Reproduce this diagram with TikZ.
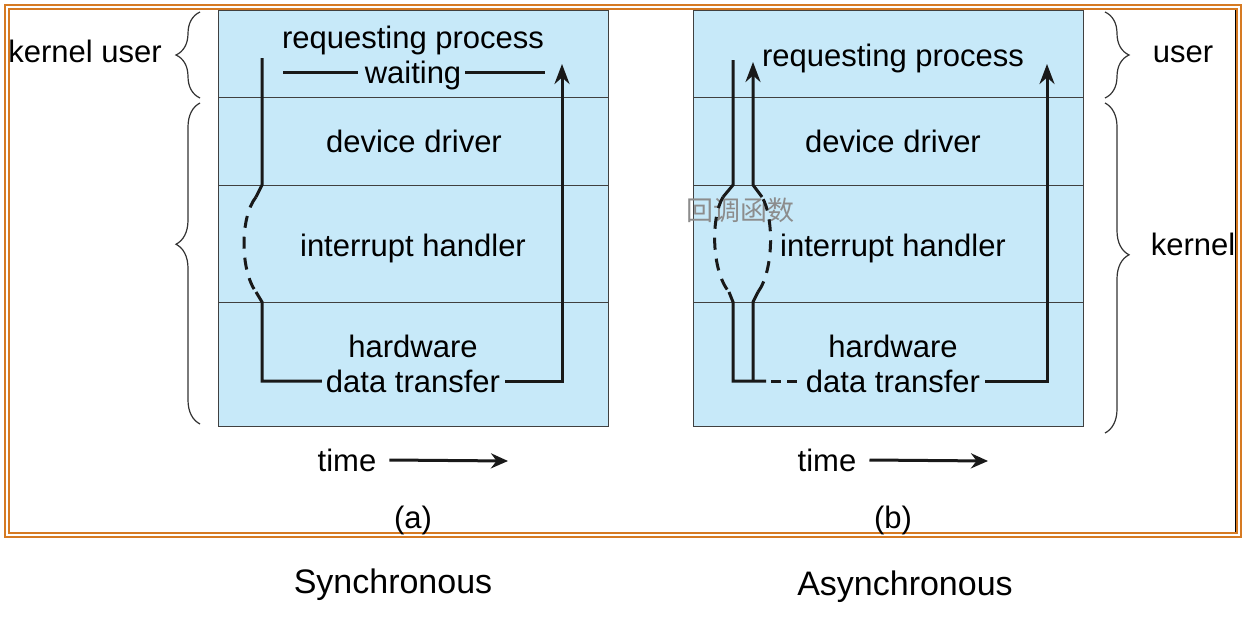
\documentclass[tikz,border=0pt]{standalone}
\usepackage{fontspec}
\setmainfont{Liberation Sans}
\newfontfamily\cjk{Noto Sans CJK SC}
\usetikzlibrary{arrows.meta, decorations.pathreplacing}
\definecolor{layerblue}{RGB}{199,233,249}
\definecolor{frameorange}{RGB}{214,122,34}
\definecolor{cbgray}{RGB}{140,140,140}
\tikzset{x=1pt, y=-1pt, % one unit is one pixel of the picture
>={Stealth[length=20pt, width=15pt]}, % bold arrow heads
layer/.style={draw=black!75, line width=0.9pt, fill=layerblue, minimum width=390pt, inner sep=0pt}, % one band of the stack
txt/.style={font=\fontsize{31}{35}\selectfont, inner sep=0pt, text height=22pt, text depth=0pt}, % labels
big/.style={font=\fontsize{34}{38}\selectfont, inner sep=0pt, text height=24pt, text depth=0pt}, % captions below the frame
sig/.style={line width=3pt, black!90}, % the control path
dsh/.style={sig, dash pattern=on 12pt off 9pt}, % dashed part of the path
brc/.style={decorate, decoration={brace, amplitude=24pt}, line width=1.2pt, black!80}, % side braces
}

\begin{document}
\begin{tikzpicture}
    \useasboundingbox (0,0) rectangle (1249,621);
    % frame
    \draw[frameorange, line width=2pt] (5,5) rectangle (1241,537);
    \draw[frameorange, line width=2pt] (9,9) rectangle (1237,533);
    \draw[black, line width=0.8pt] (1235,10) -- (1235,532);

    % (a) synchronous
    \node[layer, minimum height=87pt] (userA) at (413,53.5) {};
    \node[layer, minimum height=88pt] (drvA) at (413,141) {};
    \node[layer, minimum height=117pt] (intA) at (413,243.5) {};
    \node[layer, minimum height=124pt] (hwA) at (413,364) {};
    \node[txt] (reqA) at (413,37) {requesting process};
    \node[txt] (waitA) at (413,72) {waiting};
    \node[txt] (ddA) at (414,141) {device driver};
    \node[txt] (ihA) at (413,245) {interrupt handler};
    \node[txt] (hwtA) at (413,346) {hardware};
    \node[txt] (xferA) at (413,381) {data transfer};

    % (b) asynchronous
    \node[layer, minimum height=87pt] (userB) at (888,53.5) {};
    \node[layer, minimum height=88pt] (drvB) at (888,141) {};
    \node[layer, minimum height=117pt] (intB) at (888,243.5) {};
    \node[layer, minimum height=124pt] (hwB) at (888,364) {};
    \node[txt] (reqB) at (893,55) {requesting process};
    \node[txt] (ddB) at (893,141) {device driver};
    \node[txt] (ihB) at (893,245) {interrupt handler};
    \node[txt] (hwtB) at (893,346) {hardware};
    \node[txt] (xferB) at (893,381) {data transfer};
    \node[font=\cjk\fontsize{27}{30}\selectfont, text=cbgray, inner sep=0pt] (cb) at (740,210) {回调函数};

    % path in (a)
    \coordinate (a0) at (262,58);
    \coordinate (a1) at (562,64);
    \coordinate (w0) at (283,72);
    \coordinate (w1) at (545,72);
    \draw[sig] (w0) -- ([xshift=-7pt]waitA.west);
    \draw[sig] ([xshift=4pt]waitA.east) -- (w1);
    \draw[sig] (a0) -- (262,185) -- (256,197);
    \draw[dsh] (256,197) .. controls (240,217) and (240,270) .. (256,292);
    \draw[sig] (256,292) -- (262,302) |- ([xshift=-4pt]xferA.west);
    \draw[sig, ->] ([xshift=5pt]xferA.east) -| (a1);

    % path in (b)
    \coordinate (b0) at (733,60);
    \coordinate (b1) at (753,62);
    \coordinate (b2) at (1047,64);
    \draw[sig] (b0) -- (733,185) -- (723,197);
    \draw[dsh] (723,197) .. controls (711,217) and (711,270) .. (729,292);
    \draw[sig] (729,292) -- (733,302) -- (733,381) -- (766,381);
    \draw[sig] (753,381) -- (753,302) -- (758,292);
    \draw[dsh] (758,292) .. controls (774,270) and (774,217) .. (762,197);
    \draw[sig, ->] (762,197) -- (753,185) -- (b1);
    \draw[sig, dash pattern=on 10pt off 6pt] (771,381) -- ([xshift=-5pt]xferB.west);
    \draw[sig, ->] ([xshift=5pt]xferB.east) -| (b2);

    % braces and side labels
    \draw[brc] (200,98) -- (200,12);
    \draw[brc, decoration={aspect=0.56}] (200,424) -- (200,103);
    \draw[brc] (1105,12) -- (1105,98);
    \draw[brc, decoration={aspect=0.46}] (1105,103) -- (1105,433);
    \node[txt] (kuA) at (85,51) {kernel user};
    \node[txt] (uB) at (1183,51) {user};
    \node[txt] (kB) at (1193,244) {kernel};

    % time axes
    \node[txt] (timeA) at (347,460) {time};
    \node[txt] (timeB) at (827,460) {time};
    \coordinate (tA) at (508,461);
    \coordinate (tB) at (988,461);
    \draw[sig, -{Stealth[length=17pt, width=15pt]}] ([xshift=13pt]timeA.east) -- (tA);
    \draw[sig, -{Stealth[length=17pt, width=15pt]}] ([xshift=13pt]timeB.east) -- (tB);

    % captions
    \node[txt] (capA) at (413,517) {(a)};
    \node[txt] (capB) at (893,517) {(b)};
    \node[big] (syn) at (393,581) {Synchronous};
    \node[big] (asyn) at (905,583) {Asynchronous};
\end{tikzpicture}
\end{document}
